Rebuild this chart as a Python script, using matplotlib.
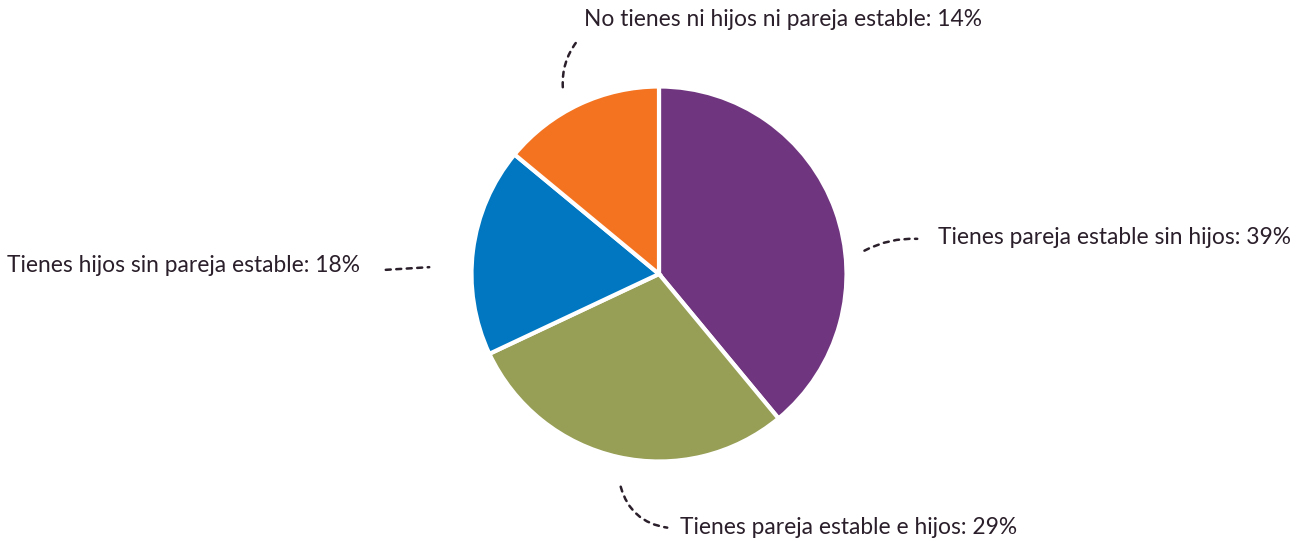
import matplotlib.pyplot as plt

# Situación familiar
etiquetas = ['Tienes pareja estable sin hijos', 'Tienes pareja estable e hijos',
             'Tienes hijos sin pareja estable', 'No tienes ni hijos ni pareja estable']
valores = [39, 29, 18, 14]
colores = ['#70357f', '#979e55', '#0077c0', '#f47321']

W, H = 1307, 541
fig = plt.figure(figsize=(W / 100, H / 100), dpi=100)
ax = fig.add_axes([0, 0, 1, 1])

cx, cy, r = 659, H - 274, 187.5
ax.pie(valores, colors=colores, startangle=90, counterclock=False,
       center=(cx, cy), radius=r, frame=True,
       wedgeprops=dict(edgecolor='white', linewidth=3))
ax.set_xlim(0, W)
ax.set_ylim(0, H)
ax.set_aspect('equal')
ax.axis('off')

txt = dict(fontsize=16.4, color='#2a1f2a', family='Lato', va='center')
linea = dict(arrowstyle='-', color='#2a1f2a', lw=1.8, linestyle=(0, (2, 2.2)))

# posiciones de texto y conectores: (texto_x, texto_y, ha, inicio, fin, curvatura)
rot = [
    (938, H - 237, 'left', (862, H - 252), (920, H - 239), -0.15),
    (680, H - 527, 'left', (620, H - 484), (670, H - 528), 0.35),
    (360, H - 266, 'right', (383, H - 270), (432, H - 267), 0.0),
    (584, H - 20, 'left', (563, H - 90), (578, H - 40), -0.2),
]
for etq, v, (tx, ty, ha, p0, p1, rad) in zip(etiquetas, valores, rot):
    ax.text(tx, ty, f'{etq}: {v}%', ha=ha, **txt)
    ax.annotate('', xy=p1, xytext=p0,
                arrowprops=dict(connectionstyle=f'arc3,rad={rad}', **linea))

fig.savefig('out.png', dpi=100)
